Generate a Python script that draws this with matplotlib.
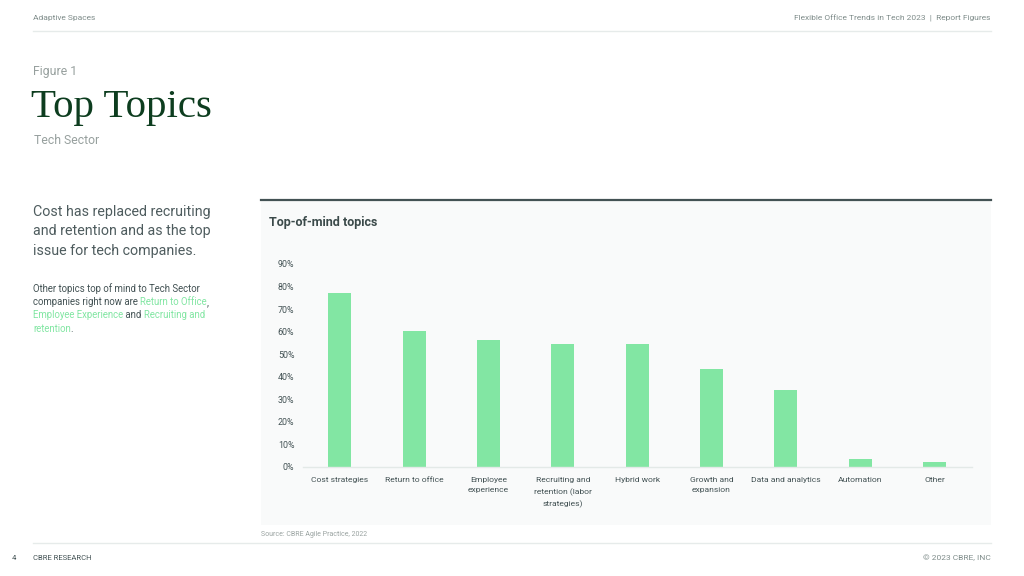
import matplotlib.pyplot as plt
from matplotlib.patches import Rectangle
from matplotlib.lines import Line2D

plt.rcParams['font.family'] = ['Roboto', 'DejaVu Sans']

categories = ['Cost strategies', 'Return to office', 'Employee\nexperience',
              'Recruiting and\nretention (labor\nstrategies)', 'Hybrid work',
              'Growth and\nexpansion', 'Data and analytics', 'Automation', 'Other']
shares = [77, 60.5, 56.5, 54.5, 54.5, 43.5, 34, 3.5, 2]
y_ticks = [0, 10, 20, 30, 40, 50, 60, 70, 80, 90]

W, H = 1024, 576
bar_color = '#82e6a3'
dark = '#435254'
grey = '#7f8c8a'


def fx(px):
    return px / W


def fy(py):
    return 1 - py / H


fig = plt.figure(figsize=(10.24, 5.76), dpi=100)
fig.patch.set_facecolor('white')

# header / footer
fig.text(fx(33), fy(18), 'Adaptive Spaces', fontsize=6, color=grey, va='center')
fig.text(fx(991), fy(18), 'Flexible Office Trends in Tech 2023  |  Report Figures', fontsize=6,
         color=grey, va='center', ha='right')
fig.add_artist(Line2D([fx(33), fx(991)], [fy(31), fy(31)], color='#e6ebea', lw=1))
fig.add_artist(Line2D([fx(33), fx(991)], [fy(543), fy(543)], color='#e6ebea', lw=1))
fig.text(fx(12), fy(558), '4', fontsize=5.5, color=dark, va='center')
fig.text(fx(33), fy(558), 'CBRE RESEARCH', fontsize=5.5, color=dark, va='center')
fig.text(fx(991), fy(558), '© 2023 CBRE, INC', fontsize=6, color=grey, va='center', ha='right')

# titles
fig.text(fx(33), fy(71), 'Figure 1', fontsize=8.8, color='#97a09e', va='center')
fig.text(fx(31), fy(107), 'Top Topics', fontsize=29.5, color='#0d3d1f', va='center',
         family='Liberation Serif')
fig.text(fx(34), fy(141), 'Tech Sector', fontsize=8.8, color='#97a09e', va='center')

# lead text
for i, line in enumerate(['Cost has replaced recruiting', 'and retention and as the top',
                          'issue for tech companies.']):
    fig.text(fx(33), fy(212 + i * 19.5), line, fontsize=10.3, color='#4e5c5e', va='center')

# paragraph with green highlights
para = [
    [('Other topics top of mind to Tech Sector', dark)],
    [('companies right now are ', dark), ('Return to Office', bar_color), (',', dark)],
    [('Employee Experience', bar_color), (' and ', dark), ('Recruiting and', bar_color)],
    [('retention', bar_color), ('.', dark)],
]
fig.canvas.draw()
renderer = fig.canvas.get_renderer()
for i, parts in enumerate(para):
    x = fx(33)
    for txt, col in parts:
        t = fig.text(x, fy(289 + i * 13.2), txt, fontsize=6.9, color=col, va='center')
        bb = t.get_window_extent(renderer=renderer)
        x += bb.width / W

# chart panel
fig.patches.append(Rectangle((fx(261), fy(525)), fx(991) - fx(261), fy(201) - fy(525),
                             transform=fig.transFigure, facecolor='#f9fafa', edgecolor='none',
                             zorder=-5))
fig.add_artist(Line2D([fx(261), fx(991)], [fy(200), fy(200)], color=dark, lw=1.6))
fig.text(fx(269), fy(222), 'Top-of-mind topics', fontsize=9, color='#3b4a4a', va='center',
         fontweight='bold')
fig.text(fx(261), fy(535), 'Source: CBRE Agile Practice, 2022', fontsize=5, color='#9aa3a1', va='center')

ax = fig.add_axes([fx(302.7), fy(467), (971.7 - 302.7) / W, (467 - 264) / H])
ax.set_facecolor('none')
ax.set_zorder(5)
ax.bar(range(len(categories)), shares, width=0.31, color=bar_color, zorder=2)
ax.set_xlim(-0.5, len(categories) - 0.5)
ax.set_ylim(0, 90)
ax.set_yticks(y_ticks)
ax.set_yticklabels([f'{v}%' for v in y_ticks])
ax.set_xticks(range(len(categories)))
ax.set_xticklabels(categories, linespacing=1.75)
ax.tick_params(axis='y', length=0, pad=6, labelsize=6.4, labelcolor=dark)
ax.tick_params(axis='x', length=0, pad=7.5, labelsize=6.1, labelcolor=dark)
for s in ['top', 'right', 'left']:
    ax.spines[s].set_visible(False)
ax.spines['bottom'].set_color('#e3e9e7')
ax.spines['bottom'].set_linewidth(1)

fig.savefig('out.png', dpi=100)
